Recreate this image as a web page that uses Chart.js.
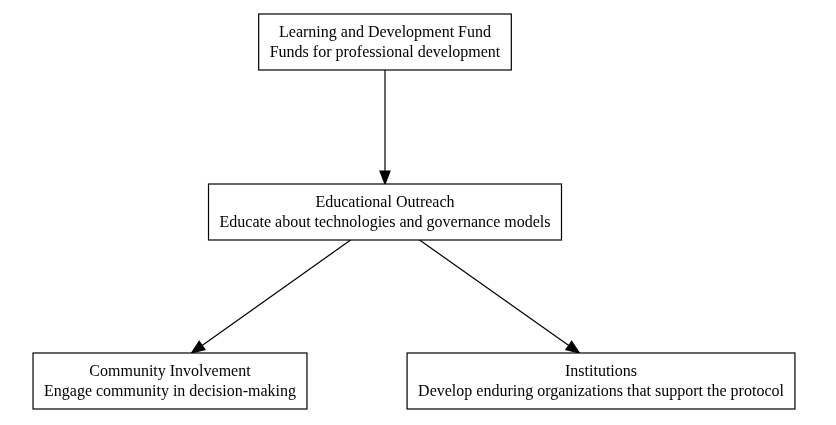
<!DOCTYPE html>
<html>
<head>
<meta charset="utf-8">
<script src="https://cdn.jsdelivr.net/npm/chart.js@4"></script>
<style>
  html, body { margin: 0; padding: 0; background: #fff; }
  #wrap { width: 836px; height: 425px; }
</style>
</head>
<body>
<div id="wrap"><canvas id="chart"></canvas></div>
<script>
// node data (centre positions in diagram units)
const nodeNames = ['fund', 'outreach', 'community', 'institutions'];
const nodeTitles = ['Learning and Development Fund', 'Educational Outreach', 'Community Involvement', 'Institutions'];
const nodeDescs = ['Funds for professional development', 'Educate about technologies and governance models',
    'Engage community in decision-making', 'Develop enduring organizations that support the protocol'];
const nodeX = [385, 385, 170, 601];
const nodeY = [42, 212, 381, 381];
const edgeFrom = ['fund', 'outreach', 'outreach'];
const edgeTo = ['outreach', 'community', 'institutions'];

const FONT = '16px "Liberation Serif", "Times New Roman", serif';
const BOX_H = 56;

const diagramPlugin = {
    id: 'diagram',
    afterDatasetsDraw(chart) {
        const ctx = chart.ctx;
        const xs = chart.scales.x, ys = chart.scales.y;
        ctx.save();
        ctx.font = FONT;
        const boxes = {};
        nodeNames.forEach((name, i) => {
            const cx = xs.getPixelForValue(nodeX[i]);
            const cy = ys.getPixelForValue(nodeY[i]);
            const w = Math.max(ctx.measureText(nodeTitles[i]).width, ctx.measureText(nodeDescs[i]).width) + 22;
            boxes[name] = { cx, cy, w, h: BOX_H };
        });

        // edges
        ctx.strokeStyle = '#000';
        ctx.fillStyle = '#000';
        ctx.lineWidth = 1.2;
        edgeFrom.forEach((from, i) => {
            const s = boxes[from], t = boxes[edgeTo[i]];
            const x1 = s.cx + (t.cx - s.cx) * 0.16, y1 = s.cy + s.h / 2;
            const x2 = t.cx + (s.cx - t.cx) * 0.1, y2 = t.cy - t.h / 2;
            const ang = Math.atan2(y2 - y1, x2 - x1);
            const len = 13, half = 5;
            const bx = x2 - len * Math.cos(ang), by = y2 - len * Math.sin(ang);
            ctx.beginPath();
            ctx.moveTo(x1, y1);
            ctx.lineTo(bx, by);
            ctx.stroke();
            ctx.beginPath();
            ctx.moveTo(x2, y2);
            ctx.lineTo(bx + half * Math.sin(ang), by - half * Math.cos(ang));
            ctx.lineTo(bx - half * Math.sin(ang), by + half * Math.cos(ang));
            ctx.closePath();
            ctx.fill();
            ctx.stroke();
        });

        // boxes
        ctx.textAlign = 'center';
        ctx.textBaseline = 'middle';
        nodeNames.forEach((name, i) => {
            const b = boxes[name];
            ctx.fillStyle = '#fff';
            ctx.fillRect(b.cx - b.w / 2, b.cy - b.h / 2, b.w, b.h);
            ctx.strokeRect(b.cx - b.w / 2, b.cy - b.h / 2, b.w, b.h);
            ctx.fillStyle = '#000';
            ctx.fillText(nodeTitles[i], b.cx, b.cy - 9);
            ctx.fillText(nodeDescs[i], b.cx, b.cy + 11);
        });
        ctx.restore();
    }
};

new Chart(document.getElementById('chart'), {
    type: 'scatter',
    data: {
        datasets: [{
            data: nodeX.map((x, i) => ({ x: x, y: nodeY[i] })),
            pointRadius: 0
        }]
    },
    options: {
        responsive: true,
        maintainAspectRatio: false,
        animation: false,
        layout: { padding: 0 },
        plugins: { legend: { display: false }, tooltip: { enabled: false } },
        scales: {
            x: { display: false, min: 0, max: 836 },
            y: { display: false, min: 0, max: 425, reverse: true }
        }
    },
    plugins: [diagramPlugin]
});
</script>
</body>
</html>
